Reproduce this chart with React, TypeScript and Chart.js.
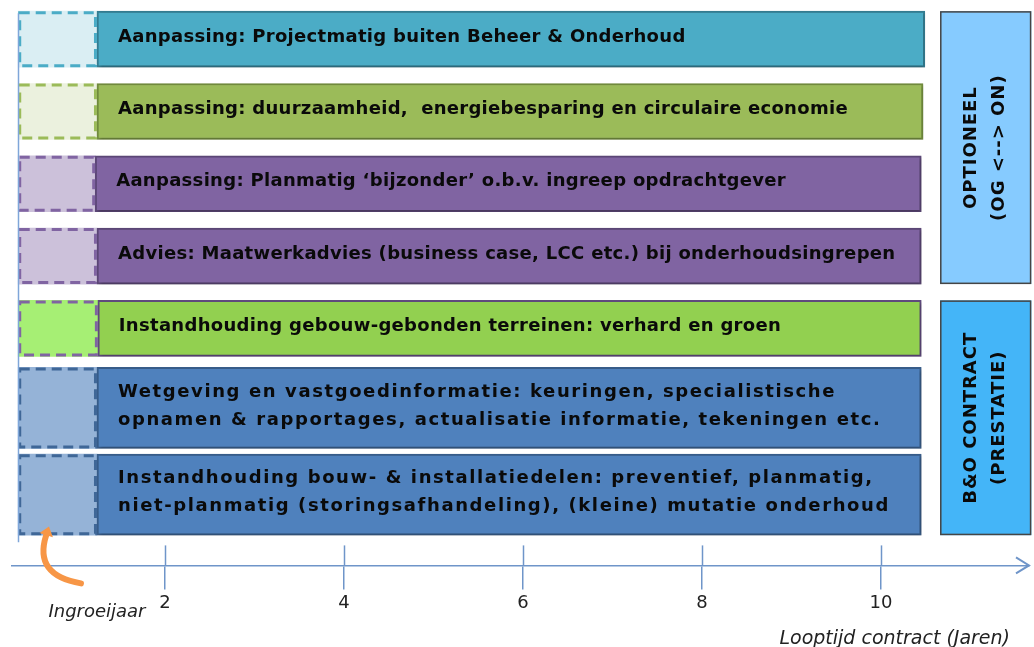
import React, { useEffect, useRef } from 'react';
import { Chart, registerables } from 'chart.js';

Chart.register(...registerables);

// ---------------- data ----------------
const rowLabels: string[][] = [
  ['Aanpassing: Projectmatig buiten Beheer & Onderhoud'],
  ['Aanpassing: duurzaamheid,  energiebesparing en circulaire economie'],
  ['Aanpassing: Planmatig \u2018bijzonder\u2019 o.b.v. ingreep opdrachtgever'],
  ['Advies: Maatwerkadvies (business case, LCC etc.) bij onderhoudsingrepen'],
  ['Instandhouding gebouw-gebonden terreinen: verhard en groen'],
  [
    'Wetgeving en vastgoedinformatie: keuringen, specialistische',
    'opnamen & rapportages, actualisatie informatie, tekeningen etc.',
  ],
  [
    'Instandhouding bouw- & installatiedelen: preventief, planmatig,',
    'niet-planmatig (storingsafhandeling), (kleine) mutatie onderhoud',
  ],
];
const ingroeiStart = [0.36, 0.36, 0.36, 0.36, 0.36, 0.36, 0.36];
const contractStart = [1.24, 1.24, 1.22, 1.24, 1.25, 1.24, 1.24];
const contractEnd = [10.49, 10.47, 10.45, 10.45, 10.45, 10.45, 10.45];
const xTicks = [2, 4, 6, 8, 10];
const groupLabels = [
  ['OPTIONEEL', '(OG <--> ON)'],
  ['B&O CONTRACT', '(PRESTATIE)'],
];
const groupFirstRow = [0, 4];
const groupLastRow = [3, 6];
const groupRange = [10.66, 11.68];
const ingroeiLabel = 'Ingroeijaar';
const axisTitle = 'Looptijd contract (Jaren)';

// ---------------- styles ----------------
const mainFill = ['#4bacc6', '#9bbb59', '#8064a2', '#8064a2', '#92d050', '#4f81bd', '#4f81bd'];
const mainBorder = ['#347d92', '#718b3d', '#5c4777', '#5c4777', '#5f4a7d', '#385d8a', '#385d8a'];
const ingroeiFill = ['#daeef3', '#ebf1de', '#ccc1da', '#ccc1da', '#a6ef74', '#95b3d7', '#95b3d7'];
const ingroeiDash = ['#4bacc6', '#9bbb59', '#8064a2', '#8064a2', '#8064a2', '#3f6797', '#3f6797'];
const groupFill = ['#86cbff', '#44b5f8'];
const axisColor = '#6f95c9';
const FONT = '"DejaVu Sans", Verdana, sans-serif';

// row layout derived from number of text lines
const rowSlot = rowLabels.map((l) => (l.length > 1 ? 1.2 : 1));
const rowCenter: number[] = [];
let acc = 0;
rowSlot.forEach((s) => {
  rowCenter.push(acc + s / 2);
  acc += s;
});
const thicknessFor = (i: number) => (rowLabels[i].length > 1 ? 81 : 56);

const singleRows = rowLabels.map((_, i) => i).filter((i) => rowLabels[i].length === 1);
const doubleRows = rowLabels.map((_, i) => i).filter((i) => rowLabels[i].length > 1);

function mainDataset(rows: number[]) {
  return {
    kind: 'main',
    rows,
    data: rows.map((i) => ({ x: [contractStart[i], contractEnd[i]], y: rowCenter[i] })),
    backgroundColor: rows.map((i) => mainFill[i]),
    borderColor: rows.map((i) => mainBorder[i]),
    borderWidth: 2,
    borderSkipped: false,
    barThickness: thicknessFor(rows[0]),
    grouped: false,
  } as any;
}
function ingroeiDataset(rows: number[]) {
  return {
    kind: 'ingroei',
    rows,
    data: rows.map((i) => ({ x: [ingroeiStart[i], contractStart[i]], y: rowCenter[i] })),
    backgroundColor: rows.map((i) => ingroeiFill[i]),
    borderWidth: 0,
    barThickness: thicknessFor(rows[0]),
    grouped: false,
  } as any;
}

const rowTop = (yScale: any, i: number) => yScale.getPixelForValue(rowCenter[i]) - thicknessFor(i) / 2;
const rowBottom = (yScale: any, i: number) => yScale.getPixelForValue(rowCenter[i]) + thicknessFor(i) / 2;

const decorPlugin = {
  id: 'decor',
  beforeDatasetDraw(chart: any, args: any) {
    const d = chart.data.datasets[args.index];
    if (d.kind === 'main') {
      const ctx = chart.ctx;
      ctx.save();
      ctx.shadowColor = 'rgba(0,0,0,0.28)';
      ctx.shadowBlur = 3;
      ctx.shadowOffsetX = 1;
      ctx.shadowOffsetY = 1.5;
    }
  },
  afterDatasetDraw(chart: any, args: any) {
    const d = chart.data.datasets[args.index];
    if (d.kind === 'main') chart.ctx.restore();
  },
  afterDatasetsDraw(chart: any) {
    const ctx = chart.ctx;
    chart.data.datasets.forEach((d: any, di: number) => {
      const meta = chart.getDatasetMeta(di);
      meta.data.forEach((el: any, j: number) => {
        const r = d.rows[j];
        const p = el.getProps(['x', 'y', 'base', 'height'], true);
        const left = Math.min(p.x, p.base);
        const right = Math.max(p.x, p.base);
        const top = p.y - p.height / 2;
        if (d.kind === 'ingroei') {
          ctx.save();
          ctx.setLineDash([10, 6]);
          ctx.lineWidth = 3;
          ctx.strokeStyle = ingroeiDash[r];
          ctx.strokeRect(left + 1.5, top + 1.5, right - left - 3, p.height - 3);
          ctx.restore();
        } else {
          const lines = rowLabels[r];
          ctx.save();
          ctx.font = `bold 18px ${FONT}`;
          (ctx as any).letterSpacing = lines.length > 1 ? '1.6px' : '0.3px';
          ctx.fillStyle = '#0a0a0a';
          ctx.textAlign = 'left';
          ctx.textBaseline = 'middle';
          lines.forEach((t: string, k: number) => {
            ctx.fillText(t, left + 21, p.y - 2 + (k - (lines.length - 1) / 2) * 28);
          });
          ctx.restore();
        }
      });
    });
  },
  afterDraw(chart: any) {
    const ctx = chart.ctx;
    const xs = chart.scales.x;
    const ys = chart.scales.y;
    const area = chart.chartArea;
    const axisY = area.bottom;
    const last = rowLabels.length - 1;

    // upper halves of the tick marks + arrow head
    ctx.save();
    ctx.strokeStyle = axisColor;
    ctx.lineWidth = 1.5;
    xTicks.forEach((v) => {
      const px = Math.round(xs.getPixelForValue(v)) + 0.5;
      ctx.beginPath();
      ctx.moveTo(px, axisY - 20);
      ctx.lineTo(px, axisY);
      ctx.stroke();
    });
    ctx.lineWidth = 2;
    ctx.beginPath();
    ctx.moveTo(area.right - 13, axisY - 8);
    ctx.lineTo(area.right, axisY);
    ctx.lineTo(area.right - 13, axisY + 8);
    ctx.stroke();
    // left vertical guide at start of ingroeijaar
    const vx = Math.round(xs.getPixelForValue(ingroeiStart[0])) + 0.5;
    ctx.strokeStyle = '#7fa6d9';
    ctx.lineWidth = 1.5;
    ctx.beginPath();
    ctx.moveTo(vx, rowTop(ys, 0) + 2);
    ctx.lineTo(vx, rowBottom(ys, last) + 7);
    ctx.stroke();
    ctx.restore();

    // group boxes on the right
    groupLabels.forEach((lines, g) => {
      const x0 = xs.getPixelForValue(groupRange[0]);
      const x1 = xs.getPixelForValue(groupRange[1]);
      const y0 = rowTop(ys, groupFirstRow[g]);
      const y1 = rowBottom(ys, groupLastRow[g]);
      ctx.save();
      ctx.fillStyle = groupFill[g];
      ctx.fillRect(x0, y0, x1 - x0, y1 - y0);
      ctx.strokeStyle = '#454545';
      ctx.lineWidth = 1.5;
      ctx.strokeRect(x0 + 0.75, y0 + 0.75, x1 - x0 - 1.5, y1 - y0 - 1.5);
      ctx.translate((x0 + x1) / 2, (y0 + y1) / 2);
      ctx.rotate(-Math.PI / 2);
      ctx.font = `bold 18px ${FONT}`;
      (ctx as any).letterSpacing = '1px';
      ctx.fillStyle = '#0a0a0a';
      ctx.textAlign = 'center';
      ctx.textBaseline = 'middle';
      lines.forEach((t, k) => {
        ctx.fillText(t, 0, (k - (lines.length - 1) / 2) * 28);
      });
      ctx.restore();
    });

    // orange curved arrow below the last ingroei box
    const bx0 = xs.getPixelForValue(ingroeiStart[last]);
    const bx1 = xs.getPixelForValue(contractStart[last]);
    const by = rowBottom(ys, last);
    ctx.save();
    ctx.strokeStyle = '#f79646';
    ctx.fillStyle = '#f79646';
    ctx.lineWidth = 6;
    ctx.lineCap = 'round';
    const sx = bx1 - 16, sy = axisY + 18;
    const cx = bx0 + 15, cy = axisY + 10;
    const ex = bx0 + 28, ey = by;
    ctx.beginPath();
    ctx.moveTo(sx, sy);
    ctx.quadraticCurveTo(cx, cy, ex, ey);
    ctx.stroke();
    const dx = ex - cx, dy = ey - cy;
    const len = Math.hypot(dx, dy);
    const ux = dx / len, uy = dy / len;
    ctx.beginPath();
    ctx.moveTo(ex + ux * 9, ey + uy * 9);
    ctx.lineTo(ex - uy * 7, ey + ux * 7);
    ctx.lineTo(ex + uy * 7, ey - ux * 7);
    ctx.closePath();
    ctx.fill();
    ctx.restore();

    // texts under the axis
    ctx.save();
    ctx.font = `italic 18px ${FONT}`;
    ctx.fillStyle = '#222';
    ctx.textBaseline = 'middle';
    ctx.textAlign = 'center';
    ctx.fillText(ingroeiLabel, bx1, axisY + 47);
    ctx.textAlign = 'right';
    ctx.font = `italic 19px ${FONT}`;
    ctx.fillText(axisTitle, area.right - 19, axisY + 74);
    ctx.restore();
  },
};

export default function App() {
  const ref = useRef<HTMLCanvasElement>(null);
  useEffect(() => {
    const canvas = ref.current!;
    const chart = new Chart(canvas, {
      type: 'bar',
      data: {
        datasets: [
          mainDataset(singleRows),
          mainDataset(doubleRows),
          ingroeiDataset(singleRows),
          ingroeiDataset(doubleRows),
        ],
      },
      options: {
        animation: false,
        responsive: false,
        devicePixelRatio: 1,
        indexAxis: 'y',
        layout: { padding: { left: 12, right: 5, top: 3, bottom: 30 } },
        plugins: { legend: { display: false }, tooltip: { enabled: false }, title: { display: false } },
        scales: {
          x: {
            type: 'linear',
            position: 'bottom',
            min: 0.2905,
            max: 11.654,
            afterBuildTicks: (s: any) => {
              s.ticks = xTicks.map((v) => ({ value: v }));
            },
            grid: {
              display: true,
              drawOnChartArea: false,
              drawTicks: true,
              tickLength: 24,
              color: axisColor,
              lineWidth: 1.5,
            },
            border: { display: true, color: axisColor, width: 1.5 },
            ticks: {
              padding: 3,
              autoSkip: false,
              maxRotation: 0,
              color: '#222',
              font: { family: FONT, size: 18 },
            },
          },
          y: {
            type: 'linear',
            reverse: true,
            offset: false,
            min: 0,
            max: acc + 0.378,
            display: false,
          },
        },
      } as any,
      plugins: [decorPlugin],
    });
    return () => chart.destroy();
  }, []);
  return (
    <div style={{ position: 'fixed', left: 0, top: 0, width: 1034, height: 647, background: '#fff' }}>
      <canvas ref={ref} width={1034} height={647} style={{ display: 'block', width: 1034, height: 647 }} />
    </div>
  );
}
